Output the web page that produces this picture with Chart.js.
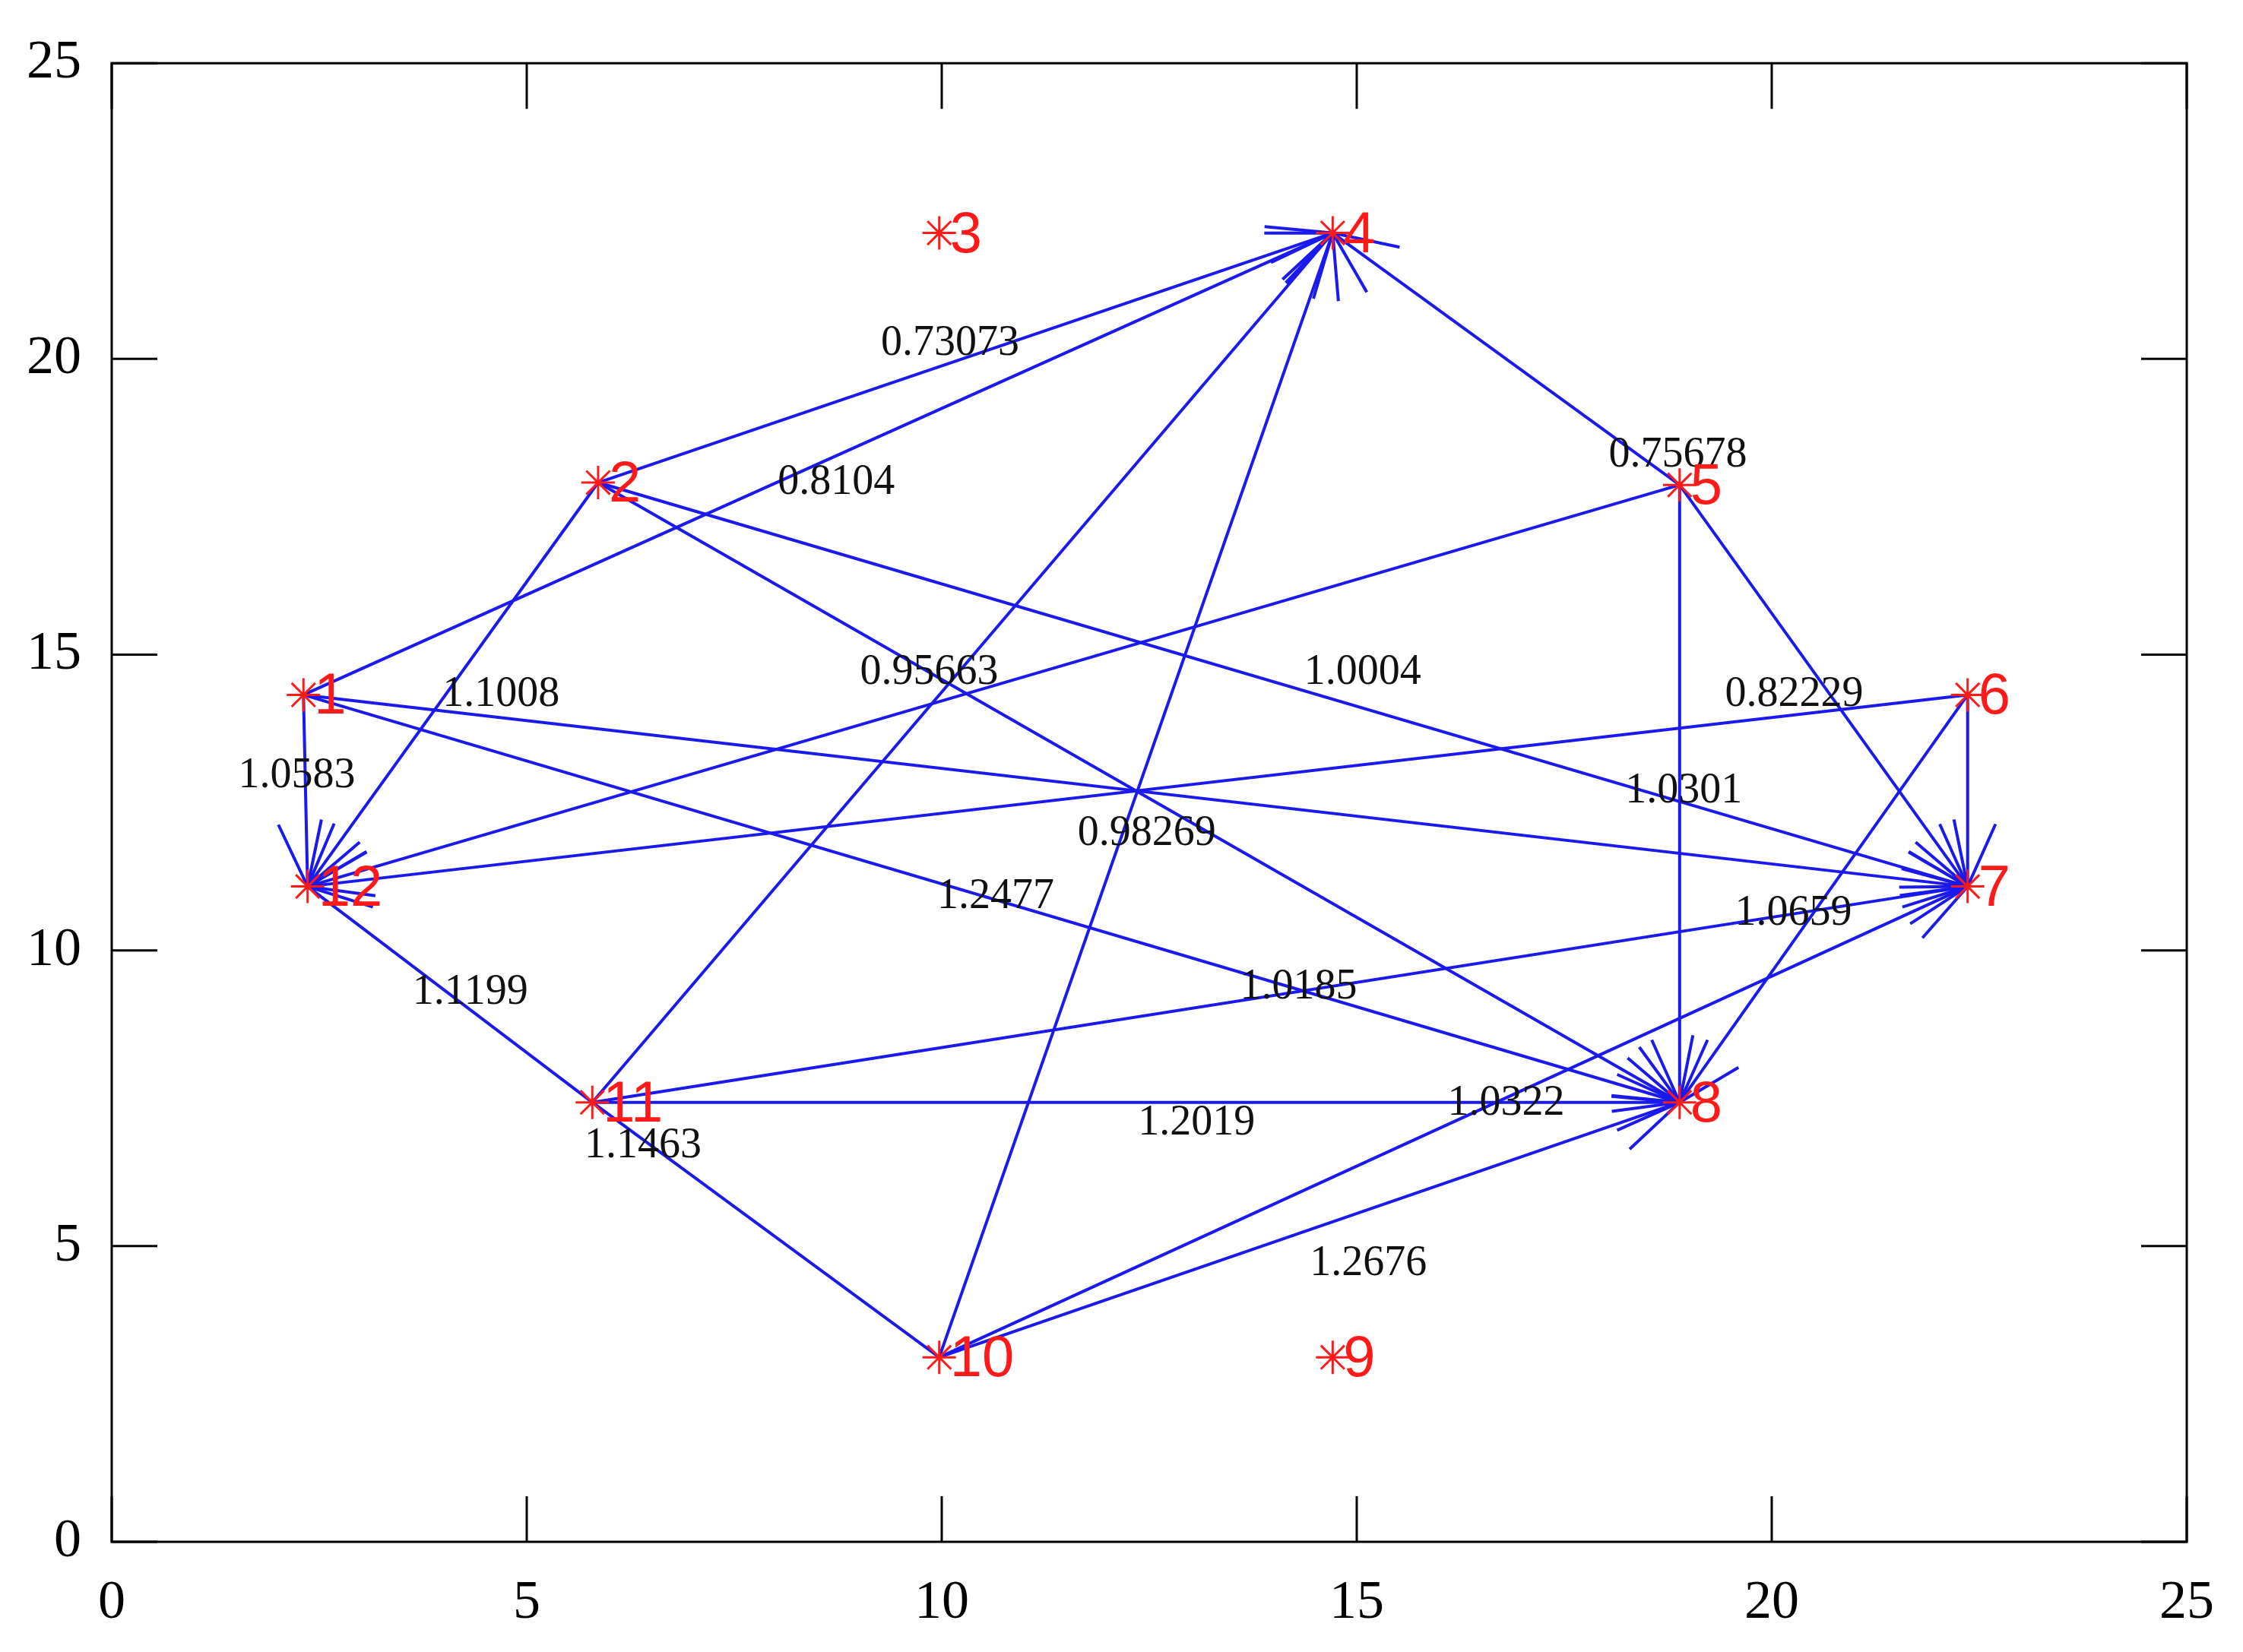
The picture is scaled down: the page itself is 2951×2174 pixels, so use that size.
<!DOCTYPE html>
<html>
<head>
<meta charset="utf-8">
<script src="https://cdn.jsdelivr.net/npm/chart.js@4"></script>
<style>
  html, body { margin: 0; padding: 0; background: #fff; }
  #wrap { width: 2951px; height: 2174px; }
</style>
</head>
<body>
<div id="wrap"><canvas id="c"></canvas></div>
<script>
// node positions (data units)
const nodeIds = [1, 2, 3, 4, 5, 6, 7, 8, 9, 10, 11, 12];
const nodeX = [2.31, 5.86, 9.97, 14.71, 18.89, 22.36, 22.36, 18.89, 14.71, 9.97, 5.79, 2.36];
const nodeY = [14.32, 17.91, 22.13, 22.13, 17.87, 14.32, 11.08, 7.43, 3.12, 3.12, 7.43, 11.08];

// edges: from -> to, and whether an arrowhead is drawn at target
const edgeFrom = [2, 1, 11, 10, 5, 1, 2, 5, 6, 2, 1, 5, 6, 11, 10, 2, 1, 5, 6, 11, 10, 11, 11];
const edgeTo   = [4, 4, 4, 4, 4, 12, 12, 12, 12, 7, 7, 7, 7, 7, 7, 8, 8, 8, 8, 8, 8, 12, 10];
const edgeArrow = [1, 1, 1, 1, 1, 1, 1, 1, 1, 1, 1, 1, 1, 1, 1, 1, 1, 1, 1, 1, 1, 0, 0];

// weight labels
const weightText = ['0.73073', '0.8104', '0.75678', '1.1008', '0.95663', '1.0004', '0.82229', '1.0583', '1.0301',
  '0.98269', '1.2477', '1.0659', '1.1199', '1.0185', '1.0322', '1.2019', '1.1463', '1.2676'];
const weightX = [10.1, 8.73, 18.87, 4.69, 9.85, 15.07, 20.27, 2.23, 18.94, 12.47, 10.65, 20.26, 4.32, 14.30, 16.80, 13.07, 6.40, 15.14];
const weightY = [20.26, 17.91, 18.37, 14.32, 14.70, 14.70, 14.32, 12.95, 12.69, 11.97, 10.91, 10.62, 9.28, 9.38, 7.41, 7.07, 6.69, 4.70];

const ticks = [0, 5, 10, 15, 20, 25];

const SERIF = '"Liberation Serif", "DejaVu Serif", serif';

const graphPlugin = {
  id: 'graph',
  beforeDatasetsDraw(chart) {
    const { ctx, scales: { x, y } } = chart;
    ctx.save();
    ctx.strokeStyle = '#1a1aee';
    ctx.lineWidth = 4;
    edgeFrom.forEach((f, i) => {
      const t = edgeTo[i];
      const x1 = x.getPixelForValue(nodeX[f - 1]), y1 = y.getPixelForValue(nodeY[f - 1]);
      const x2 = x.getPixelForValue(nodeX[t - 1]), y2 = y.getPixelForValue(nodeY[t - 1]);
      ctx.beginPath();
      ctx.moveTo(x1, y1);
      ctx.lineTo(x2, y2);
      ctx.stroke();
      if (edgeArrow[i]) {
        const a = Math.atan2(y2 - y1, x2 - x1);
        const len = 90, spread = 0.42;
        ctx.beginPath();
        ctx.moveTo(x2 - len * Math.cos(a - spread), y2 - len * Math.sin(a - spread));
        ctx.lineTo(x2, y2);
        ctx.lineTo(x2 - len * Math.cos(a + spread), y2 - len * Math.sin(a + spread));
        ctx.stroke();
      }
    });
    ctx.restore();
  },
  afterDatasetsDraw(chart) {
    const { ctx, chartArea: ca, scales: { x, y } } = chart;
    ctx.save();
    // weight labels
    ctx.fillStyle = '#111';
    ctx.font = '56px ' + SERIF;
    ctx.textAlign = 'center';
    ctx.textBaseline = 'middle';
    weightText.forEach((s, i) => {
      ctx.fillText(s, x.getPixelForValue(weightX[i]), y.getPixelForValue(weightY[i]));
    });
    // node labels
    ctx.fillStyle = '#ff1a1a';
    ctx.font = '76px "Liberation Sans", Arial, sans-serif';
    ctx.textAlign = 'left';
    nodeIds.forEach((id, i) => {
      ctx.fillText(String(id), x.getPixelForValue(nodeX[i]) + 14, y.getPixelForValue(nodeY[i]) + 4);
    });
    // frame and inward ticks on all sides
    ctx.strokeStyle = '#000';
    ctx.lineWidth = 3;
    ctx.strokeRect(ca.left, ca.top, ca.right - ca.left, ca.bottom - ca.top);
    const tl = 60;
    ctx.beginPath();
    ticks.forEach(v => {
      const px = x.getPixelForValue(v), py = y.getPixelForValue(v);
      ctx.moveTo(px, ca.bottom); ctx.lineTo(px, ca.bottom - tl);
      ctx.moveTo(px, ca.top); ctx.lineTo(px, ca.top + tl);
      ctx.moveTo(ca.left, py); ctx.lineTo(ca.left + tl, py);
      ctx.moveTo(ca.right, py); ctx.lineTo(ca.right - tl, py);
    });
    ctx.stroke();
    ctx.restore();
  }
};

new Chart(document.getElementById('c'), {
  type: 'scatter',
  data: {
    datasets: [{
      data: nodeX.map((v, i) => ({ x: v, y: nodeY[i] })),
      pointStyle: 'star',
      pointRadius: 22,
      borderColor: '#ff1a1a',
      borderWidth: 3,
      backgroundColor: '#ff1a1a'
    }]
  },
  options: {
    responsive: true,
    maintainAspectRatio: false,
    animation: false,
    layout: { padding: { top: 41, right: 40, left: 0, bottom: 0 } },
    plugins: { legend: { display: false }, tooltip: { enabled: false } },
    scales: {
      x: {
        min: 0, max: 25,
        afterBuildTicks: s => { s.ticks = ticks.map(v => ({ value: v })); },
        afterFit: s => { s.height = 145; },
        grid: { display: false, drawTicks: false },
        border: { display: false },
        ticks: { color: '#000', padding: 38, font: { family: SERIF, size: 72 } }
      },
      y: {
        min: 0, max: 25,
        afterBuildTicks: s => { s.ticks = ticks.map(v => ({ value: v })); },
        afterFit: s => { s.width = 147; },
        grid: { display: false, drawTicks: false },
        border: { display: false },
        ticks: { color: '#000', padding: 40, font: { family: SERIF, size: 72 } }
      }
    }
  },
  plugins: [graphPlugin]
});
</script>
</body>
</html>
